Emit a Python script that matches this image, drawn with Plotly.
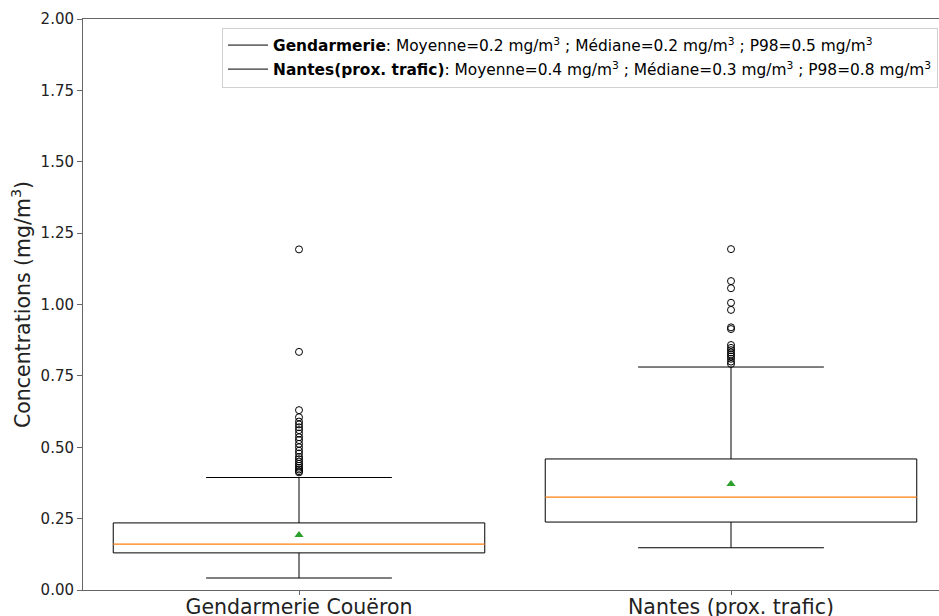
import plotly.graph_objects as go

# Station categories and their box statistics (mg/m3)
categories = ["Gendarmerie Couëron", "Nantes (prox. trafic)"]
positions = [1, 2]
q1 = [0.130, 0.238]
median = [0.161, 0.325]
q3 = [0.235, 0.459]
lower_whisker = [0.042, 0.148]
upper_whisker = [0.394, 0.781]
mean = [0.193, 0.371]

# Values beyond the whiskers
outliers_gendarmerie = [1.193, 0.834, 0.630, 0.605, 0.590, 0.580, 0.570, 0.560,
                        0.548, 0.535, 0.525, 0.512, 0.500, 0.488, 0.478, 0.466,
                        0.458, 0.450, 0.442, 0.435, 0.428, 0.422, 0.416, 0.412]
outliers_nantes = [1.194, 1.082, 1.057, 1.006, 0.981, 0.920, 0.914, 0.858,
                   0.848, 0.840, 0.832, 0.825, 0.818, 0.810, 0.800, 0.792]

# Legend summaries
legend_names = ["Gendarmerie", "Nantes(prox. trafic)"]
legend_mean = [0.2, 0.4]
legend_median = [0.2, 0.3]
legend_p98 = [0.5, 0.8]

box_width = 0.86
cap_width = box_width / 2
font = "DejaVu Sans"


def seg(x0, x1, y0, y1, color="black", width=1):
    return go.Scatter(x=[x0, x1], y=[y0, y1], mode="lines",
                      line=dict(color=color, width=width),
                      showlegend=False, hoverinfo="skip")


fig = go.Figure()

for i, p in enumerate(positions):
    hw = box_width / 2
    hc = cap_width / 2
    # box outline (Q1 to Q3)
    fig.add_trace(go.Scatter(
        x=[p - hw, p + hw, p + hw, p - hw, p - hw],
        y=[q1[i], q1[i], q3[i], q3[i], q1[i]], mode="lines",
        line=dict(color="black", width=1), showlegend=False, hoverinfo="skip",
    ))
    # whiskers and caps
    fig.add_trace(seg(p, p, q1[i], lower_whisker[i]))
    fig.add_trace(seg(p, p, q3[i], upper_whisker[i]))
    fig.add_trace(seg(p - hc, p + hc, lower_whisker[i], lower_whisker[i]))
    fig.add_trace(seg(p - hc, p + hc, upper_whisker[i], upper_whisker[i]))
    # median
    fig.add_trace(seg(p - hw, p + hw, median[i], median[i], color="#ff7f0e", width=1.2))

# Outlier circles
for p, vals in zip(positions, [outliers_gendarmerie, outliers_nantes]):
    fig.add_trace(go.Scatter(
        x=[p] * len(vals), y=vals, mode="markers",
        marker=dict(symbol="circle-open", size=7, color="black", line=dict(width=1)),
        showlegend=False, hoverinfo="skip",
    ))

# Mean markers
fig.add_trace(go.Scatter(
    x=positions, y=mean, mode="markers",
    marker=dict(symbol="triangle-up", size=8, color="#2ca02c"),
    showlegend=False, hoverinfo="skip",
))

# Legend entries with summary statistics
for i, name in enumerate(legend_names):
    label = (f"<b>{name}</b>: Moyenne={legend_mean[i]} mg/m<sup>3</sup> ; "
             f"Médiane={legend_median[i]} mg/m<sup>3</sup> ; "
             f"P98={legend_p98[i]} mg/m<sup>3</sup>")
    fig.add_trace(go.Scatter(
        x=[None], y=[None], mode="lines", name=label,
        line=dict(color="black", width=1), legendgroup=f"g{i}",
    ))

fig.update_layout(
    width=939, height=616,
    margin=dict(l=83, r=0, t=19, b=26),
    paper_bgcolor="white", plot_bgcolor="white",
    font=dict(family=font, color="#222"),
    legend=dict(
        x=0.1624, y=0.985, xanchor="left", yanchor="top",
        bgcolor="rgba(255,255,255,0.85)", bordercolor="#d0d0d0", borderwidth=1,
        font=dict(size=15.4, family=font, color="black"), tracegroupgap=1,
        itemwidth=40,
    ),
    xaxis=dict(
        range=[0.5, 0.5 + 856 / 432], tickvals=positions, ticktext=categories,
        showgrid=False, zeroline=False, showline=True, linecolor="#666",
        linewidth=1, mirror=True, ticks="outside", ticklen=4, tickcolor="#666",
        tickfont=dict(size=20.5, family=font, color="#222"), automargin=False,
        ticklabelstandoff=-6,
    ),
    yaxis=dict(
        range=[0, 2], tickvals=[0, 0.25, 0.5, 0.75, 1.0, 1.25, 1.5, 1.75, 2.0],
        tickformat=".2f", showgrid=False, zeroline=False, showline=True,
        linecolor="#666", linewidth=1, ticks="outside", ticklen=5, tickcolor="#666",
        tickfont=dict(size=15, family=font, color="#222"), automargin=False,
        title=dict(text="Concentrations (mg/m<sup>3</sup>)", standoff=4,
                   font=dict(size=20.5, family=font, color="#222")),
    ),
)

fig.write_html("out.html")
